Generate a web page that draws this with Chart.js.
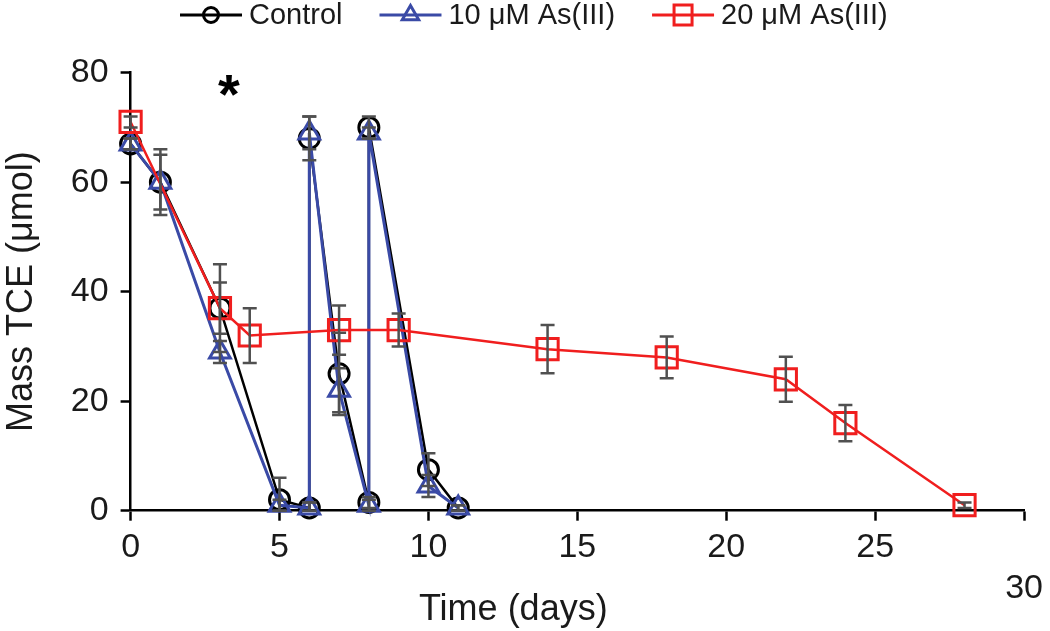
<!DOCTYPE html>
<html><head><meta charset="utf-8">
<script src="https://cdn.jsdelivr.net/npm/chart.js@4.4.0/dist/chart.umd.min.js"></script>
<style>html,body{margin:0;padding:0;background:#fff}#wrap{width:1050px;height:631px}</style>
</head><body><div id="wrap"><canvas id="c" width="1050" height="631"></canvas></div>
<script>
// ---- data ----
const seriesLabels = ['Control', '10 \u03bcM As(III)', '20 \u03bcM As(III)'];

const controlDays = [0, 1, 3, 5, 6, 6, 7, 8, 8, 10, 11];
const controlTCE  = [67, 60, 37, 2, 0.5, 68, 25, 1.5, 70, 7.5, 0.5];
const controlErr  = [1, 6, 8, 4, 1, 4, 7.5, 1, 2, 3, 0.5];

const as10Days = [0, 1, 3, 5, 6, 6, 7, 8, 8, 10, 11];
const as10TCE  = [67, 60, 29, 1, 0.5, 69, 22, 1, 69, 4.5, 0.5];
const as10Err  = [1, 5, 2, 1, 1, 3, 4, 1, 1, 2, 0.5];

const as20Days = [0, 3, 4, 7, 9, 14, 18, 22, 24, 28];
const as20TCE  = [71, 37, 32, 33, 33, 29.5, 28, 24, 16, 1];
const as20Err  = [1, 4.7, 5, 4.5, 3, 4.4, 3.8, 4.1, 3.3, 0.5];

const xTicks = [0, 5, 10, 15, 20, 25, 30];
const yTicks = [0, 20, 40, 60, 80];
const xTitle = 'Time (days)';
const yTitle = 'Mass TCE (\u03bcmol)';
const annotationText = '*';
const annotationAt = {x: 3.3, y: 78};

// ---- styling ----
const FONT = "'Liberation Sans', Arial, sans-serif";
const BLACK = '#000000', BLUE = '#3a4aa6', RED = '#f01e1e', ERR = '#505050';

function pts(xs, ys) { return xs.map((x, i) => ({x: x, y: ys[i]})); }

// drawing order: index 0 is painted last (on top)
const datasets = [
  {label: seriesLabels[2], data: pts(as20Days, as20TCE), errors: as20Err,
   borderColor: RED, backgroundColor: 'rgba(0,0,0,0)', borderWidth: 2.5,
   pointStyle: 'rect', pointRadius: 15, pointBorderWidth: 3, pointBorderColor: RED,
   pointBackgroundColor: 'rgba(0,0,0,0)', legendOrder: 2},
  {label: seriesLabels[1], data: pts(as10Days, as10TCE), errors: as10Err,
   borderColor: BLUE, backgroundColor: 'rgba(0,0,0,0)', borderWidth: 3,
   pointStyle: 'triangle', pointRadius: 12, pointBorderWidth: 3, pointBorderColor: BLUE,
   pointBackgroundColor: 'rgba(0,0,0,0)', legendOrder: 1},
  {label: seriesLabels[0], data: pts(controlDays, controlTCE), errors: controlErr,
   borderColor: BLACK, backgroundColor: 'rgba(0,0,0,0)', borderWidth: 2.5,
   pointStyle: 'circle', pointRadius: 10, pointBorderWidth: 3, pointBorderColor: BLACK,
   pointBackgroundColor: 'rgba(0,0,0,0)', legendOrder: 0}
];
datasets.forEach(d => { d.showLine = true; d.clip = false; d.tension = 0; d.pointHoverRadius = d.pointRadius; });

const errorBars = {
  id: 'errorBars',
  afterDatasetsDraw(chart) {
    const {ctx, scales: {x, y}} = chart;
    ctx.save();
    ctx.strokeStyle = ERR; ctx.lineWidth = 2.5;
    chart.data.datasets.forEach(ds => {
      ds.data.forEach((p, i) => {
        const e = ds.errors[i];
        if (!e) return;
        const px = x.getPixelForValue(p.x);
        const t = y.getPixelForValue(p.y + e);
        const b = y.getPixelForValue(Math.max(0, p.y - e));
        const c = 7;
        ctx.beginPath();
        ctx.moveTo(px, t); ctx.lineTo(px, b);
        ctx.moveTo(px - c, t); ctx.lineTo(px + c, t);
        ctx.moveTo(px - c, b); ctx.lineTo(px + c, b);
        ctx.stroke();
      });
    });
    ctx.restore();
  }
};

const extras = {
  id: 'extras',
  afterDraw(chart) {
    const {ctx, scales: {x, y}, chartArea} = chart;
    ctx.save();
    // annotation asterisk
    ctx.fillStyle = '#000';
    ctx.font = "bold 56px " + FONT;
    ctx.textAlign = 'center'; ctx.textBaseline = 'alphabetic';
    ctx.fillText(annotationText, x.getPixelForValue(annotationAt.x), y.getPixelForValue(annotationAt.y) + 29);
    // x-axis title
    ctx.font = "36px " + FONT;
    ctx.fillStyle = '#1a1a1a';
    ctx.textAlign = 'center';
    ctx.fillText(xTitle, x.getPixelForValue(12.85), chartArea.bottom + 109);
    // legend
    const items = chart.data.datasets.slice().sort((a, b) => a.legendOrder - b.legendOrder);
    ctx.font = "29px " + FONT;
    ctx.textAlign = 'left'; ctx.textBaseline = 'middle';
    let cx = 180; const cy = 15;
    items.forEach(ds => {
      ctx.strokeStyle = ds.borderColor; ctx.lineWidth = 3;
      ctx.beginPath(); ctx.moveTo(cx, cy); ctx.lineTo(cx + 62, cy); ctx.stroke();
      const mx = cx + 31;
      ctx.beginPath();
      if (ds.pointStyle === 'circle') {
        ctx.arc(mx, cy, 7.5, 0, Math.PI * 2);
      } else if (ds.pointStyle === 'triangle') {
        const r = 9.5;
        ctx.moveTo(mx, cy - r);
        ctx.lineTo(mx + r * Math.sin(2 * Math.PI / 3), cy - r * Math.cos(2 * Math.PI / 3));
        ctx.lineTo(mx + r * Math.sin(4 * Math.PI / 3), cy - r * Math.cos(4 * Math.PI / 3));
        ctx.closePath();
      } else {
        ctx.rect(mx - 9, cy - 10, 18, 20);
      }
      ctx.stroke();
      ctx.fillStyle = '#1a1a1a';
      ctx.fillText(ds.label, cx + 69, cy + 1);
      cx += 69 + ctx.measureText(ds.label).width + 37;
    });
    ctx.restore();
  }
};

new Chart(document.getElementById('c'), {
  type: 'scatter',
  data: {datasets: datasets},
  options: {
    responsive: false,
    animation: false,
    devicePixelRatio: 1,
    layout: {padding: {top: 72.7, right: 25, left: 0, bottom: 0}},
    plugins: {legend: {display: false}, tooltip: {enabled: false}},
    scales: {
      x: {
        type: 'linear', min: 0, max: 30,
        afterBuildTicks: s => { s.ticks = xTicks.map(v => ({value: v})); },
        afterFit: s => { s.height = 120.3; },
        grid: {display: true, drawOnChartArea: false, drawTicks: true, tickLength: 10, tickColor: '#000', tickWidth: 2.5},
        border: {display: true, color: '#000', width: 2.5},
        ticks: {
          font: {family: FONT, size: 34}, color: '#1a1a1a', padding: 7, maxRotation: 0, autoSkip: false,
          callback: v => (v === 30 ? ['', String(v)] : String(v))
        },
        title: {display: false}
      },
      y: {
        type: 'linear', min: 0, max: 80,
        afterBuildTicks: s => { s.ticks = yTicks.map(v => ({value: v})); },
        afterFit: s => { s.width = 130.6; },
        grid: {display: true, drawOnChartArea: false, drawTicks: true, tickLength: 10, tickColor: '#000', tickWidth: 2.5},
        border: {display: true, color: '#000', width: 2.5},
        ticks: {font: {family: FONT, size: 34}, color: '#1a1a1a', padding: 12},
        title: {display: true, text: yTitle, font: {family: FONT, size: 36}, color: '#1a1a1a', padding: {top: 0, bottom: 0}}
      }
    }
  },
  plugins: [errorBars, extras]
});
</script></body></html>
